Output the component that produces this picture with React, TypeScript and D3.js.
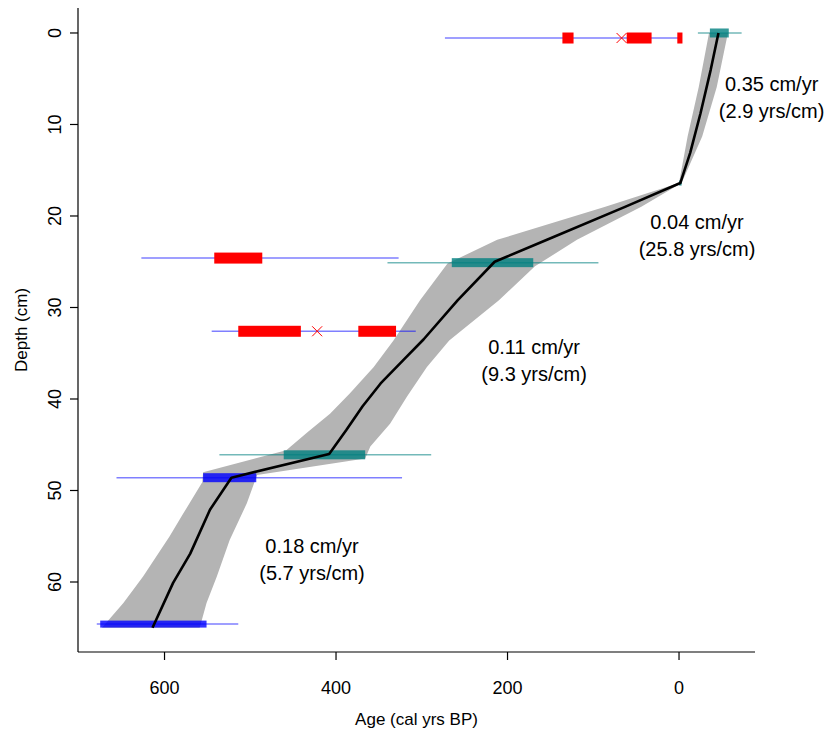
import React from "react";
import * as d3 from "d3";

// Age-depth model: 95% envelope edges (depth cm, age cal yr BP)
const olderEdge: [number, number][] = [
  [0, -35], [5.9, -23], [11.3, -10], [16.4, 0], [19, 86], [22.6, 212],
  [25.2, 270], [29.2, 302], [33.6, 333], [36.5, 356], [39.4, 384], [41.6, 407],
  [43.7, 434], [45.6, 458], [48.0, 555], [49.1, 556], [52.5, 578], [55.0, 594],
  [59.4, 625], [62.3, 648], [65, 673],
];
const youngerEdge: [number, number][] = [
  [0, -57], [5.9, -44], [11.3, -27], [16.4, -3], [19, 44], [22.6, 119],
  [25.5, 168], [29.2, 210], [33.6, 268], [36.5, 294], [39.7, 317], [42.7, 337],
  [45.2, 360], [46.5, 366], [48.3, 492], [51.4, 504], [55.4, 524], [59.4, 539],
  [62.3, 551], [65, 559],
];
// Best (mean) age-depth curve
const bestFit: [number, number][] = [
  [0, -46], [4.0, -37], [8.8, -25], [13.1, -13], [16.4, -1.5], [19, 63],
  [22.6, 154], [25, 215], [29.2, 258], [33.5, 298], [35.7, 321],
  [38.3, 348], [40.8, 369], [43.4, 388], [46.0, 408], [48.6, 522], [52.1, 547],
  [56.9, 570], [60.1, 590], [65, 614],
];

// Dated levels: depth, full calibrated range, and highest-probability ranges
const pbDepths = [0, 16.4, 25.1, 46.1];
const pbRanges: [number, number][] = [[-73, -22], [-3, 0], [94, 340], [289, 536]];
const pbCores: [number, number][] = [[-58, -36], [-3, 0], [170, 265], [366, 461]];

const c14Depths = [48.6, 64.6];
const c14Ranges: [number, number][] = [[323, 656], [514, 679]];
const c14Cores: [number, number][] = [[493, 555], [551, 675]];

const rejDepths = [0.55, 24.6, 32.6];
const rejRanges: [number, number][] = [[0, 273], [327, 627], [307, 545]];
const rejCores: [number, number][][] = [
  [[123, 136], [32, 61], [-4, 2]],
  [[486, 542]],
  [[441, 514], [330, 374]],
];
const rejMeans: (number | null)[] = [67, null, 422];

// Accumulation-rate annotations
const rateLabels = ["0.35 cm/yr", "0.04 cm/yr", "0.11 cm/yr", "0.18 cm/yr"];
const rateInverse = ["(2.9 yrs/cm)", "(25.8 yrs/cm)", "(9.3 yrs/cm)", "(5.7 yrs/cm)"];
const rateAge = [-108, -21, 169, 428];
const rateDepth = [7.1, 22.2, 35.8, 57.6];

const xTicks = [600, 400, 200, 0];
const yTicks = [0, 10, 20, 30, 40, 50, 60];

const W = 837;
const H = 732;
const left = 78;
const right = 755;
const top = 8;
const bottom = 652;
const FONT = "'Liberation Sans', Arial, sans-serif";

export default function App() {
  const x = d3.scaleLinear().domain([700.9, -88.6]).range([left, right]);
  const y = d3.scaleLinear().domain([-2.73, 67.65]).range([top, bottom]);

  const bandPts: [number, number][] = [
    ...olderEdge.map(([d, a]) => [x(a), y(d)] as [number, number]),
    ...youngerEdge.slice().reverse().map(([d, a]) => [x(a), y(d)] as [number, number]),
  ];
  const bandPath = d3.line()(bandPts) + "Z";
  const bestPath = d3
    .line<[number, number]>()
    .x((p) => x(p[1]))
    .y((p) => y(p[0]))(bestFit) as string;

  const box = (a0: number, a1: number, d: number, h: number) => ({
    x: x(Math.max(a0, a1)),
    y: y(d) - h / 2,
    width: Math.abs(x(a0) - x(a1)),
    height: h,
  });

  return (
    <svg
      width={W}
      height={H}
      style={{ position: "absolute", left: 0, top: 0, background: "#fff" }}
      fontFamily={FONT}
    >
      <path d={bandPath} fill="#b4b4b4" stroke="none" />

      {/* rejected / outlying dates */}
      {rejDepths.map((d, i) => (
        <g key={"rej" + i}>
          <line
            x1={x(rejRanges[i][0])}
            x2={x(rejRanges[i][1])}
            y1={y(d)}
            y2={y(d)}
            stroke="rgba(0,0,255,0.5)"
            strokeWidth={1.5}
          />
          {rejCores[i].map((c, j) => (
            <rect key={j} {...box(c[0], c[1], d, 11)} fill="#ff0000" />
          ))}
          {rejMeans[i] !== null && (
            <path
              d={`M${x(rejMeans[i] as number) - 5},${y(d) - 5}L${x(rejMeans[i] as number) + 5},${y(d) + 5}M${x(rejMeans[i] as number) - 5},${y(d) + 5}L${x(rejMeans[i] as number) + 5},${y(d) - 5}`}
              stroke="#ff0000"
              strokeWidth={1}
              fill="none"
            />
          )}
        </g>
      ))}

      {/* 210Pb dates */}
      {pbDepths.map((d, i) => (
        <g key={"pb" + i}>
          <line
            x1={x(pbRanges[i][0])}
            x2={x(pbRanges[i][1])}
            y1={y(d)}
            y2={y(d)}
            stroke="rgba(0,128,128,0.55)"
            strokeWidth={1.5}
          />
          <rect {...box(pbCores[i][0], pbCores[i][1], d, i === 1 ? 5 : 9)} fill="rgba(0,128,128,0.8)" />
        </g>
      ))}

      {/* 14C dates */}
      {c14Depths.map((d, i) => (
        <g key={"c" + i}>
          <line
            x1={x(c14Ranges[i][0])}
            x2={x(c14Ranges[i][1])}
            y1={y(d)}
            y2={y(d)}
            stroke="rgba(0,0,255,0.5)"
            strokeWidth={1.5}
          />
          <rect {...box(c14Cores[i][0], c14Cores[i][1], d, i === 0 ? 9 : 7)} fill="rgba(0,0,255,0.8)" />
        </g>
      ))}

      <path d={bestPath} fill="none" stroke="#000" strokeWidth={2.6} strokeLinejoin="round" />

      {/* rate annotations */}
      {rateLabels.map((t, i) => (
        <g key={"r" + i} fontSize={20} textAnchor="middle" fill="#000">
          <text x={x(rateAge[i])} y={y(rateDepth[i]) - 7}>{t}</text>
          <text x={x(rateAge[i])} y={y(rateDepth[i]) + 20}>{rateInverse[i]}</text>
        </g>
      ))}

      {/* axes */}
      <line x1={left} x2={left} y1={top} y2={bottom} stroke="#000" strokeWidth={1.2} />
      <line x1={left} x2={right} y1={bottom} y2={bottom} stroke="#000" strokeWidth={1.2} />
      {yTicks.map((t) => (
        <g key={"yt" + t}>
          <line x1={left - 8} x2={left} y1={y(t)} y2={y(t)} stroke="#000" strokeWidth={1.2} />
          <text
            transform={`translate(${left - 17},${y(t)}) rotate(-90)`}
            textAnchor="middle"
            fontSize={18}
          >
            {t}
          </text>
        </g>
      ))}
      {xTicks.map((t) => (
        <g key={"xt" + t}>
          <line x1={x(t)} x2={x(t)} y1={bottom} y2={bottom + 8} stroke="#000" strokeWidth={1.2} />
          <text x={x(t)} y={bottom + 42} textAnchor="middle" fontSize={18}>
            {t}
          </text>
        </g>
      ))}
      <text x={(left + right) / 2} y={bottom + 73} textAnchor="middle" fontSize={17}>
        Age (cal yrs BP)
      </text>
      <text
        transform={`translate(${27},${(top + bottom) / 2}) rotate(-90)`}
        textAnchor="middle"
        fontSize={17}
      >
        Depth (cm)
      </text>
    </svg>
  );
}
